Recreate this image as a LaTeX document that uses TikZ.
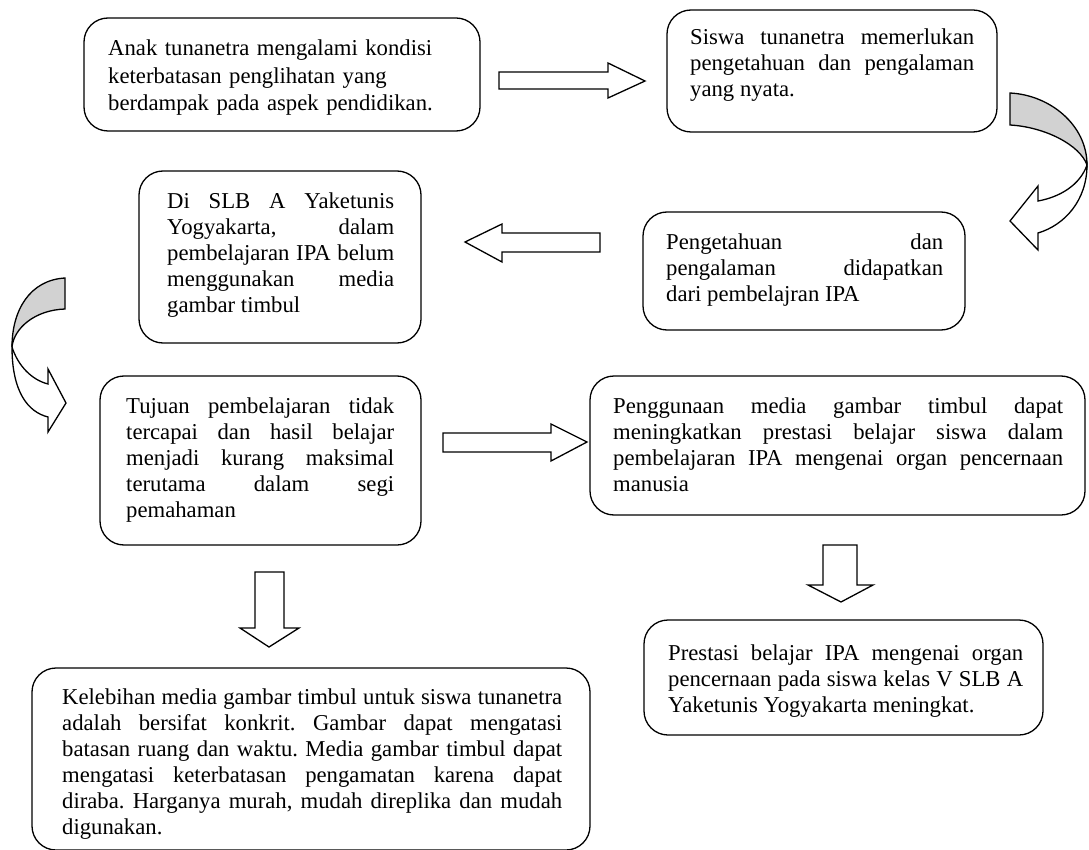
\documentclass[tikz,border=0pt]{standalone}
\usepackage{fontspec}
\setmainfont{Liberation Serif}
\tolerance=10000
\hyphenpenalty=10000
\frenchspacing
\tikzset{
  kotak/.style={draw,line width=1.3pt,rounded corners=24pt,inner sep=0pt},
  teks/.style={inner sep=0pt,anchor=base west,align=justify,
    font=\fontsize{22.7}{26}\selectfont},
  panah/.style={draw,fill=white,line width=1.3pt,line join=miter},
  lengkung/.style={draw,line width=1.3pt}
}
\begin{document}
\begin{tikzpicture}[x=1pt,y=-1pt]
  \useasboundingbox (0,0) rectangle (1089,850);
  % kotak-kotak
  \draw[kotak] (84,18) rectangle (480,131) node[pos=.5] (kotakA) {};
  \draw[kotak] (667,10) rectangle (997,132) node[pos=.5] (kotakB) {};
  \draw[kotak] (643,212) rectangle (965,330) node[pos=.5] (kotakC) {};
  \draw[kotak] (139,171) rectangle (421,343) node[pos=.5] (kotakD) {};
  \draw[kotak] (100,376) rectangle (421,545) node[pos=.5] (kotakE) {};
  \draw[kotak] (590,376) rectangle (1085,515) node[pos=.5] (kotakF) {};
  \draw[kotak] (644,620) rectangle (1043,735) node[pos=.5] (kotakG) {};
  \draw[kotak] (32,668) rectangle (590,850) node[pos=.5] (kotakH) {};
  % isi teks
  \node[teks,align=left,text width=340pt,font=\fontsize{22.7}{27.5}\selectfont] (teksA) at (108,56)
    {Anak tunanetra mengalami kondisi\\
    keterbatasan penglihatan yang\\ berdampak pada aspek pendidikan.};
  \node[teks,text width=284pt] (teksB) at (690,45) {Siswa tunanetra memerlukan\linebreak
    pengetahuan dan pengalaman\linebreak yang nyata.};
  \node[teks,text width=277pt] (teksC) at (666,250) {Pengetahuan dan\linebreak
    pengalaman didapatkan\linebreak dari pembelajran IPA};
  \node[teks,text width=227pt] (teksD) at (167,209) {Di SLB A Yaketunis\linebreak
    Yogyakarta, dalam\linebreak pembelajaran IPA belum\linebreak
    menggunakan media\linebreak gambar timbul};
  \node[teks,text width=268pt] (teksE) at (126,413) {Tujuan pembelajaran tidak\linebreak
    tercapai dan hasil belajar\linebreak menjadi kurang maksimal\linebreak
    terutama dalam segi\linebreak pemahaman};
  \node[teks,text width=450pt] (teksF) at (613,413) {Penggunaan media gambar timbul dapat\linebreak
    meningkatkan prestasi belajar siswa dalam\linebreak
    pembelajaran IPA mengenai organ pencernaan\linebreak manusia};
  \node[teks,text width=355pt] (teksG) at (668,660) {Prestasi belajar IPA mengenai organ\linebreak
    pencernaan pada siswa kelas V SLB A\linebreak Yaketunis Yogyakarta meningkat.};
  \node[teks,text width=500pt] (teksH) at (62,704) {Kelebihan media gambar timbul untuk siswa tunanetra\linebreak
    adalah bersifat konkrit. Gambar dapat mengatasi\linebreak
    batasan ruang dan waktu. Media gambar timbul dapat\linebreak
    mengatasi keterbatasan pengamatan karena dapat\linebreak
    diraba. Harganya murah, mudah direplika dan mudah\linebreak
    digunakan.};
  % panah blok lurus
  \draw[panah] (499,72) -- (608,72) -- (608,63) -- (645,81) -- (608,98) -- (608,89) -- (499,89) -- cycle;
  \draw[panah] (600,233) -- (502,233) -- (502,224) -- (465,242) -- (502,262) -- (502,252) -- (600,252) -- cycle;
  \draw[panah] (443,433) -- (551,433) -- (551,424) -- (587,442) -- (551,461) -- (551,452) -- (443,452) -- cycle;
  \draw[panah] (823,545) -- (857,545) -- (857,585) -- (873,585) -- (841,602) -- (808,585) -- (823,585) -- cycle;
  \draw[panah] (255,572) -- (284,572) -- (284,628) -- (299,628) -- (269,647) -- (240,628) -- (255,628) -- cycle;
  % panah lengkung kanan
  \draw[lengkung,fill=gray!35] (1010,93) .. controls (1050,95) and (1087,125) .. (1087,165)
    .. controls (1080,145) and (1045,127) .. (1010,125) -- cycle;
  \draw[lengkung,fill=white] (1087,165) .. controls (1087,200) and (1065,225) .. (1038,233)
    -- (1038,250) -- (1010,221) -- (1038,186) -- (1038,201)
    .. controls (1060,197) and (1080,185) .. (1087,165) -- cycle;
  % panah lengkung kiri
  \draw[lengkung,fill=gray!35] (65,278) .. controls (30,280) and (12,310) .. (12,347)
    .. controls (14,328) and (35,310) .. (65,309) -- cycle;
  \draw[lengkung,fill=white] (12,347) .. controls (12,392) and (28,412) .. (48,417)
    -- (48,432) -- (66,403) -- (48,369) -- (48,384)
    .. controls (32,380) and (18,366) .. (12,347) -- cycle;
\end{tikzpicture}
\end{document}
